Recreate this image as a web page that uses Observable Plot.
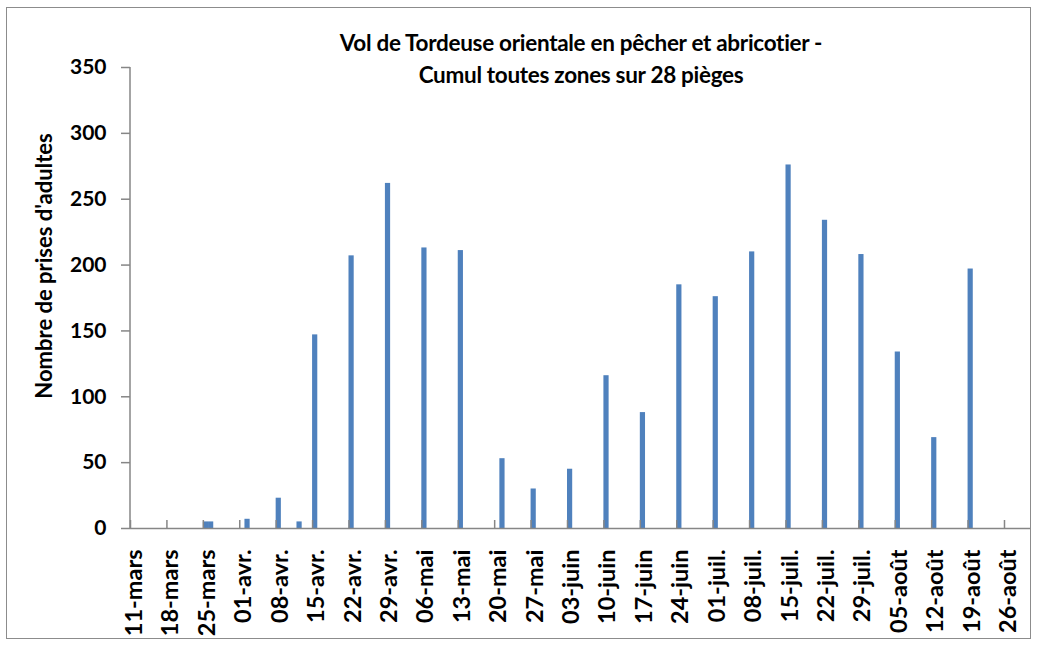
<!DOCTYPE html>
<html>
<head>
<meta charset="utf-8">
<script src="https://cdn.jsdelivr.net/npm/d3@7"></script>
<script src="https://cdn.jsdelivr.net/npm/@observablehq/plot@0.6"></script>
<style>
  html, body { margin: 0; padding: 0; background: #fff; }
  #wrap { position: relative; width: 1037px; height: 646px; overflow: hidden; font-family: Lato, "Open Sans", sans-serif; }
  #border { position: absolute; left: 6px; top: 7px; width: 1025px; height: 632px; border: 1px solid #8c8c8c; box-sizing: border-box; pointer-events: none; }
  #title { position: absolute; left: 231px; width: 700px; top: 27px; text-align: center; font-weight: 700; font-size: 22.5px; line-height: 32px; color: #000; letter-spacing: -0.3px; }
  #chart { position: absolute; left: 0; top: 0; }
</style>
</head>
<body>
<div id="wrap">
  <div id="chart"></div>
  <div id="border"></div>
  <div id="title">Vol de Tordeuse orientale en pêcher et abricotier -<br>Cumul toutes zones sur 28 pièges</div>
</div>
<script>
// ---- data ----
const sampleDates = ["2013-03-25","2013-03-26","2013-04-02","2013-04-08","2013-04-12","2013-04-15","2013-04-22","2013-04-29","2013-05-06","2013-05-13","2013-05-21","2013-05-27","2013-06-03","2013-06-10","2013-06-17","2013-06-24","2013-07-01","2013-07-08","2013-07-15","2013-07-22","2013-07-29","2013-08-05","2013-08-12","2013-08-19"];
const catches = [5,5,7,23,5,147,207,262,213,211,53,30,45,116,88,185,176,210,276,234,208,134,69,197];

const tickDates = ["2013-03-11","2013-03-18","2013-03-25","2013-04-01","2013-04-08","2013-04-15","2013-04-22","2013-04-29","2013-05-06","2013-05-13","2013-05-20","2013-05-27","2013-06-03","2013-06-10","2013-06-17","2013-06-24","2013-07-01","2013-07-08","2013-07-15","2013-07-22","2013-07-29","2013-08-05","2013-08-12","2013-08-19","2013-08-26"];
const tickLabels = ["11-mars","18-mars","25-mars","01-avr.","08-avr.","15-avr.","22-avr.","29-avr.","06-mai","13-mai","20-mai","27-mai","03-juin","10-juin","17-juin","24-juin","01-juil.","08-juil.","15-juil.","22-juil.","29-juil.","05-août","12-août","19-août","26-août"];
const xDomain = ["2013-03-11","2013-08-31"];
const yTicks = [0,50,100,150,200,250,300,350];
const yLabel = "Nombre de prises d'adultes";

// ---- build ----
const parse = d3.utcParse("%Y-%m-%d");
const data = sampleDates.map((d, i) => ({date: parse(d), value: catches[i]}));
const ticks = tickDates.map(parse);
const labelFor = new Map(ticks.map((t, i) => [+t, tickLabels[i]]));

const axisColor = "#868686";
const barColor = "#4F81BD";

const plot = Plot.plot({
  width: 1037,
  height: 646,
  marginLeft: 130,
  marginRight: 7,
  marginTop: 67,
  marginBottom: 118,
  style: {fontFamily: "Lato, 'Open Sans', sans-serif", color: "#000", background: "transparent"},
  x: {type: "utc", domain: xDomain.map(parse)},
  y: {domain: [0, 350]},
  marks: [
    Plot.rectY(data, {
      x1: "date",
      x2: d => d3.utcDay.offset(d.date, 1),
      y: "value",
      fill: barColor
    }),
    Plot.ruleY([0], {stroke: axisColor, strokeWidth: 1.5}),
    Plot.ruleX([parse(xDomain[0])], {stroke: axisColor, strokeWidth: 1.5, dx: -0.5}),
    Plot.axisX({ticks, tickSize: 8, dy: -8, tickFormat: () => "", stroke: axisColor, strokeWidth: 1.5}),
    Plot.axisX({
      ticks, tickSize: 0, tickPadding: 21, tickRotate: -90,
      tickFormat: d => labelFor.get(+d),
      fontSize: 23.5, fontWeight: "bold", fill: "#000", dx: 4, label: null
    }),
    Plot.axisY({
      ticks: yTicks, tickSize: 9, tickPadding: 15, stroke: axisColor, strokeWidth: 1.5,
      fontSize: 21, fontWeight: "bold", fill: "#000", label: null
    }),
    Plot.text([yLabel], {
      text: d => d, frameAnchor: "left", textAnchor: "middle", rotate: -90,
      dx: -86, dy: -32, fontSize: 22, fontWeight: "bold", fill: "#000"
    })
  ]
});
document.getElementById("chart").appendChild(plot);
</script>
</body>
</html>
